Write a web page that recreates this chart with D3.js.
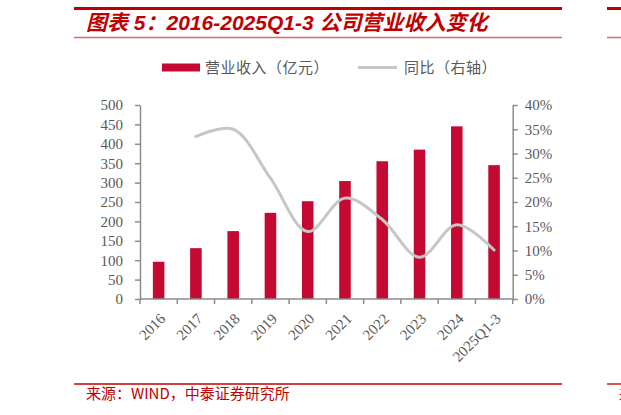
<!DOCTYPE html>
<html>
<head>
<meta charset="utf-8">
<script src="https://cdn.jsdelivr.net/npm/d3@7"></script>
<style>
  html, body { margin: 0; padding: 0; background: #fff; }
  svg { display: block; }
  .tick-label { font-family: "Liberation Serif", "DejaVu Serif", serif; font-size: 15px; fill: #595959; }
  .legend-text { font-family: "Noto Sans CJK SC", sans-serif; font-size: 15px; fill: #595959; }
</style>
</head>
<body>
<div id="chart"></div>
<script>
// Categories and series
const categories = ['2016', '2017', '2018', '2019', '2020', '2021', '2022', '2023', '2024', '2025Q1-3'];
const revenue = [96, 131, 175, 222, 252, 304, 355, 385, 445, 345];        // 营业收入（亿元）
const yoy = [null, 0.335, 0.350, 0.249, 0.139, 0.208, 0.164, 0.086, 0.153, 0.101]; // 同比（右轴）
const leftTicks = [0, 50, 100, 150, 200, 250, 300, 350, 400, 450, 500];
const rightTicks = [0, 0.05, 0.10, 0.15, 0.20, 0.25, 0.30, 0.35, 0.40];

const W = 621, H = 415;
const RED = '#C00000';
const BAR = '#C40A32';
const LINE = '#C6C6C6';
const AXIS = '#8C8C8C';

const plot = { left: 140, right: 512.7, top: 105, bottom: 299 };

const svg = d3.select('#chart').append('svg')
    .attr('width', W)
    .attr('height', H);

// Header rules and title
function rule(y, w, color) {
    svg.append('line').attr('x1', 74).attr('x2', 562).attr('y1', y).attr('y2', y)
        .attr('stroke', color).attr('stroke-width', w);
    svg.append('line').attr('x1', 607).attr('x2', W).attr('y1', y).attr('y2', y)
        .attr('stroke', color).attr('stroke-width', w);
}
rule(8.5, 3, RED);
rule(37.5, 1.5, '#E06666');

svg.append('text')
    .attr('x', 86)
    .attr('y', 30)
    .attr('fill', RED)
    .attr('font-family', '"Liberation Sans", "Noto Sans CJK SC", sans-serif')
    .attr('font-weight', 'bold')
    .attr('font-style', 'italic')
    .attr('font-size', 21)
    .text('图表 5：2016-2025Q1-3 公司营业收入变化');

// Scales
const x = d3.scaleBand().domain(categories).range([plot.left, plot.right]).padding(0);
const yL = d3.scaleLinear().domain([0, 500]).range([plot.bottom, plot.top]);
const yR = d3.scaleLinear().domain([0, 0.4]).range([plot.bottom, plot.top]);

// Bars
const barW = x.bandwidth() * 0.31;
svg.append('g').selectAll('rect')
    .data(revenue)
    .enter()
    .append('rect')
    .attr('x', (d, i) => x(categories[i]) + x.bandwidth() / 2 - barW / 2)
    .attr('y', d => yL(d))
    .attr('width', barW)
    .attr('height', d => yL(0) - yL(d))
    .attr('fill', BAR);

// YoY line (smoothed)
const pts = yoy.map((v, i) => ({ c: categories[i], v })).filter(d => d.v !== null);
const line = d3.line()
    .x(d => x(d.c) + x.bandwidth() / 2)
    .y(d => yR(d.v))
    .curve(d3.curveCatmullRom.alpha(0.5));

svg.append('path')
    .datum(pts)
    .attr('d', line)
    .attr('fill', 'none')
    .attr('stroke', LINE)
    .attr('stroke-width', 3)
    .attr('stroke-linecap', 'round');

// Axes
const leftAxis = d3.axisLeft(yL).tickValues(leftTicks).tickSize(5).tickSizeOuter(0).tickPadding(12);
const rightAxis = d3.axisRight(yR).tickValues(rightTicks).tickSize(5).tickSizeOuter(0).tickPadding(7)
    .tickFormat(d3.format('.0%'));

function styleAxis(g) {
    g.select('.domain').attr('stroke', AXIS).attr('stroke-width', 1.5);
    g.selectAll('.tick line').attr('stroke', AXIS).attr('stroke-width', 1.5);
    g.selectAll('.tick text').attr('class', 'tick-label').attr('fill', null);
}

svg.append('g')
    .attr('transform', `translate(${plot.left},0)`)
    .call(leftAxis)
    .call(styleAxis);

svg.append('g')
    .attr('transform', `translate(${plot.right},0)`)
    .call(rightAxis)
    .call(styleAxis);

// Category axis: line, boundary ticks, rotated labels
const xg = svg.append('g');
xg.append('line')
    .attr('x1', plot.left).attr('x2', plot.right)
    .attr('y1', plot.bottom).attr('y2', plot.bottom)
    .attr('stroke', AXIS).attr('stroke-width', 1.5);

const bounds = categories.map(c => x(c)).concat([plot.right]);
xg.selectAll('.xtick')
    .data(bounds)
    .enter()
    .append('line')
    .attr('x1', d => d).attr('x2', d => d)
    .attr('y1', plot.bottom).attr('y2', plot.bottom + 5)
    .attr('stroke', AXIS).attr('stroke-width', 1.5);

xg.selectAll('.xlabel')
    .data(categories)
    .enter()
    .append('text')
    .attr('class', 'tick-label')
    .attr('text-anchor', 'end')
    .attr('dy', '0.35em')
    .attr('transform', d => `translate(${x(d) + x.bandwidth() / 2 + 4},${plot.bottom + 17}) rotate(-45)`)
    .text(d => d);

// Legend
const legend = svg.append('g');
legend.append('rect')
    .attr('x', 162).attr('y', 63.5)
    .attr('width', 38).attr('height', 8)
    .attr('fill', BAR);
legend.append('text')
    .attr('class', 'legend-text')
    .attr('x', 205).attr('y', 68).attr('dy', '0.35em')
    .attr('letter-spacing', 0.5)
    .text('营业收入（亿元）');
legend.append('line')
    .attr('x1', 358).attr('x2', 397)
    .attr('y1', 67.5).attr('y2', 67.5)
    .attr('stroke', LINE).attr('stroke-width', 3);
legend.append('text')
    .attr('class', 'legend-text')
    .attr('x', 404).attr('y', 68).attr('dy', '0.35em')
    .attr('letter-spacing', 0.5)
    .text('同比（右轴）');

// Footer rule and source
svg.append('line').attr('x1', 74).attr('x2', 562).attr('y1', 384).attr('y2', 384)
    .attr('stroke', RED).attr('stroke-width', 1.3);
svg.append('line').attr('x1', 607).attr('x2', W).attr('y1', 384).attr('y2', 384)
    .attr('stroke', RED).attr('stroke-width', 1.3);

svg.append('text')
    .attr('x', 86)
    .attr('y', 399)
    .attr('fill', RED)
    .attr('font-family', '"Noto Sans CJK SC", "Liberation Sans", sans-serif')
    .attr('font-size', 15)
    .text('来源：WIND，中泰证券研究所');

svg.append('text')
    .attr('x', 619)
    .attr('y', 399)
    .attr('fill', RED)
    .attr('font-family', '"Noto Sans CJK SC", sans-serif')
    .attr('font-size', 14)
    .text('来源');
</script>
</body>
</html>
